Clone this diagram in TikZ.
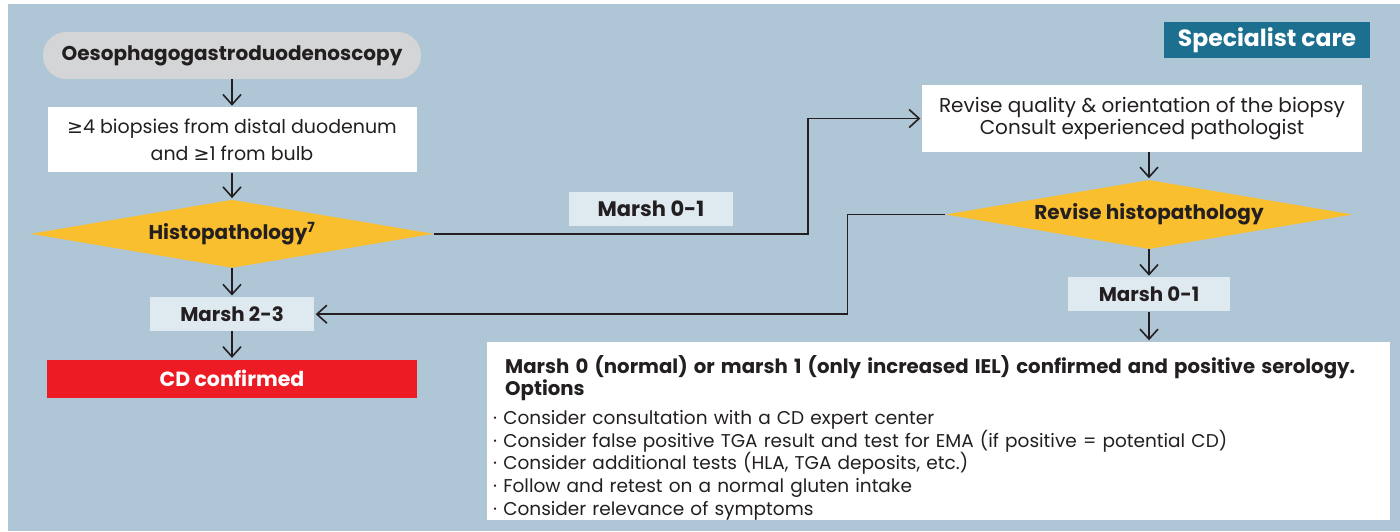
\documentclass[tikz,border=0pt]{standalone}
\usepackage{fontspec}
\setmainfont{Poppins}
\newfontfamily\symfont{DejaVu Sans}
\usetikzlibrary{positioning,shapes.geometric,arrows.meta}

\definecolor{bgblue}{RGB}{174,198,214}
\definecolor{pillgray}{RGB}{211,213,214}
\definecolor{decyellow}{RGB}{249,191,47}
\definecolor{cdred}{RGB}{237,28,36}
\definecolor{paleblue}{RGB}{222,233,240}
\definecolor{tealhead}{RGB}{28,111,142}
\definecolor{ink}{RGB}{35,31,32}

\newcommand{\atleast}{{\symfont ≥}}

\begin{document}
\begin{tikzpicture}[
    x=1pt, y=-1pt,
    font=\fontsize{19}{27}\selectfont,
    base/.style={
        rectangle,
        inner sep=0pt,
        align=center,
        text=ink
    },
    pill/.style={base, fill=pillgray, rounded corners=23pt,
        minimum width=378pt, minimum height=47pt, font=\fontsize{20}{24}\selectfont\bfseries},
    wbox/.style={base, fill=white},
    dec/.style={base, diamond, aspect=5.9, fill=decyellow,
        font=\fontsize{20}{24}\selectfont\bfseries},
    tag/.style={base, fill=paleblue, minimum width=164pt, minimum height=34pt,
        font=\fontsize{19.8}{24}\selectfont\bfseries},
    result/.style={base, fill=cdred, text=white, minimum width=370pt, minimum height=38pt,
        font=\fontsize{20.5}{24}\selectfont\bfseries},
    header/.style={base, fill=tealhead, text=white, minimum width=206pt, minimum height=36pt,
        font=\fontsize{23.5}{26}\selectfont\bfseries},
    arrow/.style={-{Straight Barb[length=10pt,width=18pt]}, line width=1.6pt, draw=ink,
        shorten >=1.5pt}
]

\useasboundingbox (0,0) rectangle (1400,531);
\fill[bgblue] (8,4) rectangle (1400,531);

% ============================================================
% LEFT COLUMN
% ============================================================
\node[pill] (ogd) at (232,55.5) {Oesophagogastroduodenoscopy};
\node[wbox, minimum width=369pt, minimum height=65pt, below=28pt of ogd] (biop)
    {\atleast4 biopsies from distal duodenum\\and \atleast1 from bulb};
\node[dec, minimum width=403pt, minimum height=68pt, below=27pt of biop] (histo)
    {Histopathology\textsuperscript{7}};
\node[tag, below=29pt of histo] (marsh23) {Marsh 2-3};
\node[result, below=28pt of marsh23] (cdconf) {CD confirmed};

\draw[arrow] (ogd) -- (biop);
\draw[arrow] (biop) -- (histo);
\draw[arrow] (histo) -- (marsh23);
\draw[arrow] (marsh23) -- (cdconf);

% ============================================================
% SPECIALIST CARE
% ============================================================
\node[header] (spec) at (1267,40) {Specialist care};
\node[tag, font=\fontsize{21}{24}\selectfont\bfseries] (marsh01a) at (651,209) {Marsh 0-1};

\node[wbox, minimum width=440pt, minimum height=67pt,
      font=\fontsize{20}{22}\selectfont] (revise) at (1142,118.5)
    {Revise quality \& orientation of the biopsy\\Consult experienced pathologist};
\node[dec, minimum width=407pt, minimum height=69pt] (revhisto) at (1149,214.5)
    {Revise histopathology};
\node[tag, minimum width=162pt, below=28pt of revhisto] (marsh01b) {Marsh 0-1};

\node[wbox, minimum width=903pt, minimum height=178pt] (options) at (938.5,431) {};
\node[base, anchor=north west, align=left, text width=890pt,
      font=\fontsize{18.5}{22.7}\selectfont] (optlist) at (493,355)
    {\hspace*{12pt}{\fontsize{19.7}{21}\selectfont\bfseries Marsh 0 (normal) or marsh 1 (only increased IEL) confirmed and positive serology.}\\
     \hspace*{12pt}{\fontsize{19.7}{21}\selectfont\bfseries Options}\\[6pt]
     · Consider consultation with a CD expert center\\
     · Consider false positive TGA result and test for EMA (if positive = potential CD)\\
     · Consider additional tests (HLA, TGA deposits, etc.)\\
     · Follow and retest on a normal gluten intake\\
     · Consider relevance of symptoms};

\draw[arrow] (histo.east) -- ++(374,0) |- (revise.west);
\draw[arrow] (revise.south -| revhisto.north) -- (revhisto.north);
\draw[arrow] (revhisto.west) -- ++(-98,0) |- (marsh23.east);
\draw[arrow] (revhisto) -- (marsh01b);
\draw[arrow] (marsh01b) -- (marsh01b |- options.north);

\end{tikzpicture}
\end{document}
